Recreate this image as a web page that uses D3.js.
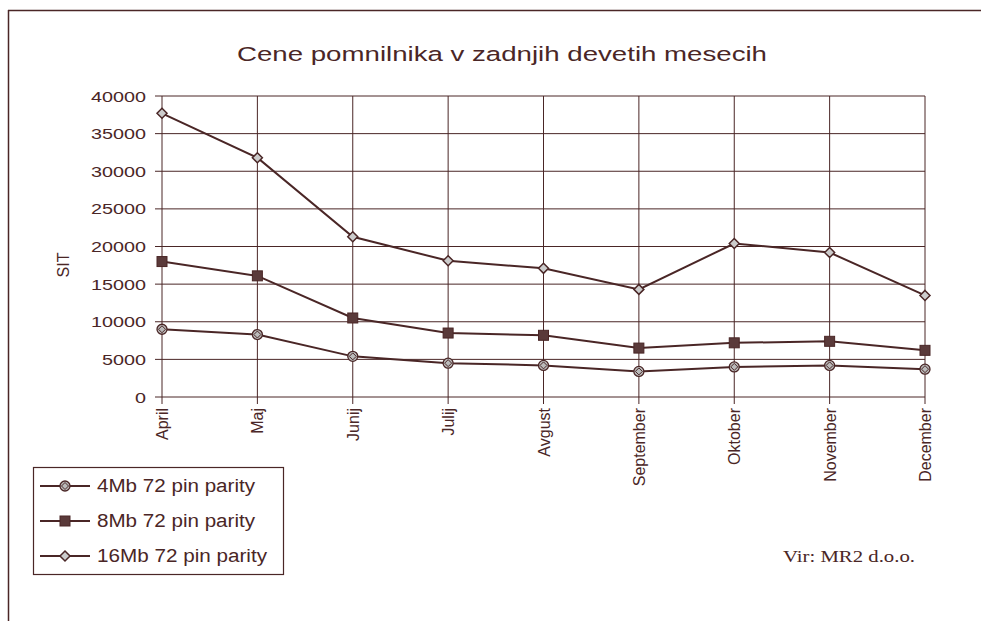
<!DOCTYPE html>
<html><head><meta charset="utf-8">
<script src="https://cdn.jsdelivr.net/npm/d3@7"></script>
<style>body{margin:0;background:#fff}svg{display:block}</style>
</head><body>
<script>
const months = ["April","Maj","Junij","Julij","Avgust","September","Oktober","November","December"];
const s4 = [9000,8300,5400,4500,4200,3400,4000,4200,3700];
const s8 = [18000,16100,10500,8500,8200,6500,7200,7400,6200];
const s16 = [37700,31800,21300,18100,17100,14300,20400,19200,13500];
const seriesNames = ["4Mb 72 pin parity","8Mb 72 pin parity","16Mb 72 pin parity"];
const yTicks = [0,5000,10000,15000,20000,25000,30000,35000,40000];

const W=981,H=621, ink="#4a2626";
const sans="Liberation Sans, Arial, sans-serif";
const svg=d3.select("body").append("svg").attr("width",W).attr("height",H);
svg.append("rect").attr("width",W).attr("height",H).attr("fill","#fff");
// frame
svg.append("line").attr("x1",8).attr("x2",W).attr("y1",10.5).attr("y2",10.5).attr("stroke",ink).attr("stroke-width",1.5);
svg.append("line").attr("x1",8.5).attr("x2",8.5).attr("y1",10).attr("y2",H).attr("stroke",ink).attr("stroke-width",1.5);

const x=d3.scalePoint().domain(months).range([162,925]);
const y=d3.scaleLinear().domain([0,40000]).range([397,96]);

svg.append("text").attr("x",237).attr("y",61)
  .attr("font-family",sans).attr("font-size",20.5).attr("fill",ink)
  .attr("textLength",530).attr("lengthAdjust","spacingAndGlyphs")
  .text("Cene pomnilnika v zadnjih devetih mesecih");

const g=svg.append("g");
// grid
g.selectAll(".hg").data(yTicks).join("line").attr("x1",155).attr("x2",925)
  .attr("y1",d=>y(d)).attr("y2",d=>y(d)).attr("stroke",ink).attr("stroke-width",1);
g.selectAll(".vg").data(months).join("line").attr("x1",d=>x(d)).attr("x2",d=>x(d))
  .attr("y1",96).attr("y2",404).attr("stroke",ink).attr("stroke-width",1);

// y axis labels
g.selectAll(".yl").data(yTicks).join("text").attr("x",146).attr("y",d=>y(d)).attr("dy","0.36em")
  .attr("text-anchor","end").attr("font-family",sans).attr("font-size",15.5)
  .attr("textLength",d=>String(d).length*11).attr("lengthAdjust","spacingAndGlyphs")
  .attr("fill",ink).text(d=>d);
svg.append("text").attr("transform","translate(69,265) rotate(-90)").attr("text-anchor","middle")
  .attr("font-family",sans).attr("font-size",16).attr("fill",ink).text("SIT");
// x labels
g.selectAll(".xl").data(months).join("text")
  .attr("transform",d=>`translate(${x(d)+6},408) rotate(-90)`).attr("text-anchor","end")
  .attr("font-family",sans).attr("font-size",16).attr("fill",ink).text(d=>d);

const line=d3.line().x((d,i)=>x(months[i])).y(d=>y(d));
const series=[s4,s8,s16];
function marker(sel,k){
  if(k===0){
    sel.append("circle").attr("r",5).attr("fill","#bbb").attr("stroke",ink).attr("stroke-width",1.3);
    sel.append("path").attr("d","M0,-3.5L3.5,0L0,3.5L-3.5,0Z").attr("fill","none").attr("stroke",ink).attr("stroke-width",1);
  } else if(k===1){
    sel.append("rect").attr("x",-5).attr("y",-5).attr("width",10).attr("height",10).attr("fill","#5a3a3a").attr("stroke",ink);
  } else {
    sel.append("path").attr("d","M0,-5L5,0L0,5L-5,0Z").attr("fill","#ccc").attr("stroke",ink).attr("stroke-width",1.5);
  }
}
series.forEach((s,k)=>{
  g.append("path").datum(s).attr("d",line).attr("fill","none").attr("stroke",ink).attr("stroke-width",2);
  s.forEach((v,i)=>{ marker(g.append("g").attr("transform",`translate(${x(months[i])},${y(v)})`),k); });
});

// legend
const lg=svg.append("g");
lg.append("rect").attr("x",33.5).attr("y",467.5).attr("width",250).attr("height",107).attr("fill","none").attr("stroke",ink).attr("stroke-width",1.2);
const legW=[158,158,170];
seriesNames.forEach((n,k)=>{
  const yy=486+k*35;
  lg.append("line").attr("x1",40).attr("x2",90).attr("y1",yy).attr("y2",yy).attr("stroke",ink).attr("stroke-width",2);
  marker(lg.append("g").attr("transform",`translate(65,${yy})`),k);
  lg.append("text").attr("x",97).attr("y",yy).attr("dy","0.36em").attr("font-family",sans)
    .attr("font-size",18).attr("fill",ink).attr("textLength",legW[k]).attr("lengthAdjust","spacingAndGlyphs").text(n);
});
svg.append("text").attr("x",783).attr("y",562).attr("font-family","Liberation Serif, Times New Roman, serif")
  .attr("font-size",17).attr("fill",ink).attr("textLength",132).attr("lengthAdjust","spacingAndGlyphs").text("Vir: MR2 d.o.o.");
</script>
</body></html>
